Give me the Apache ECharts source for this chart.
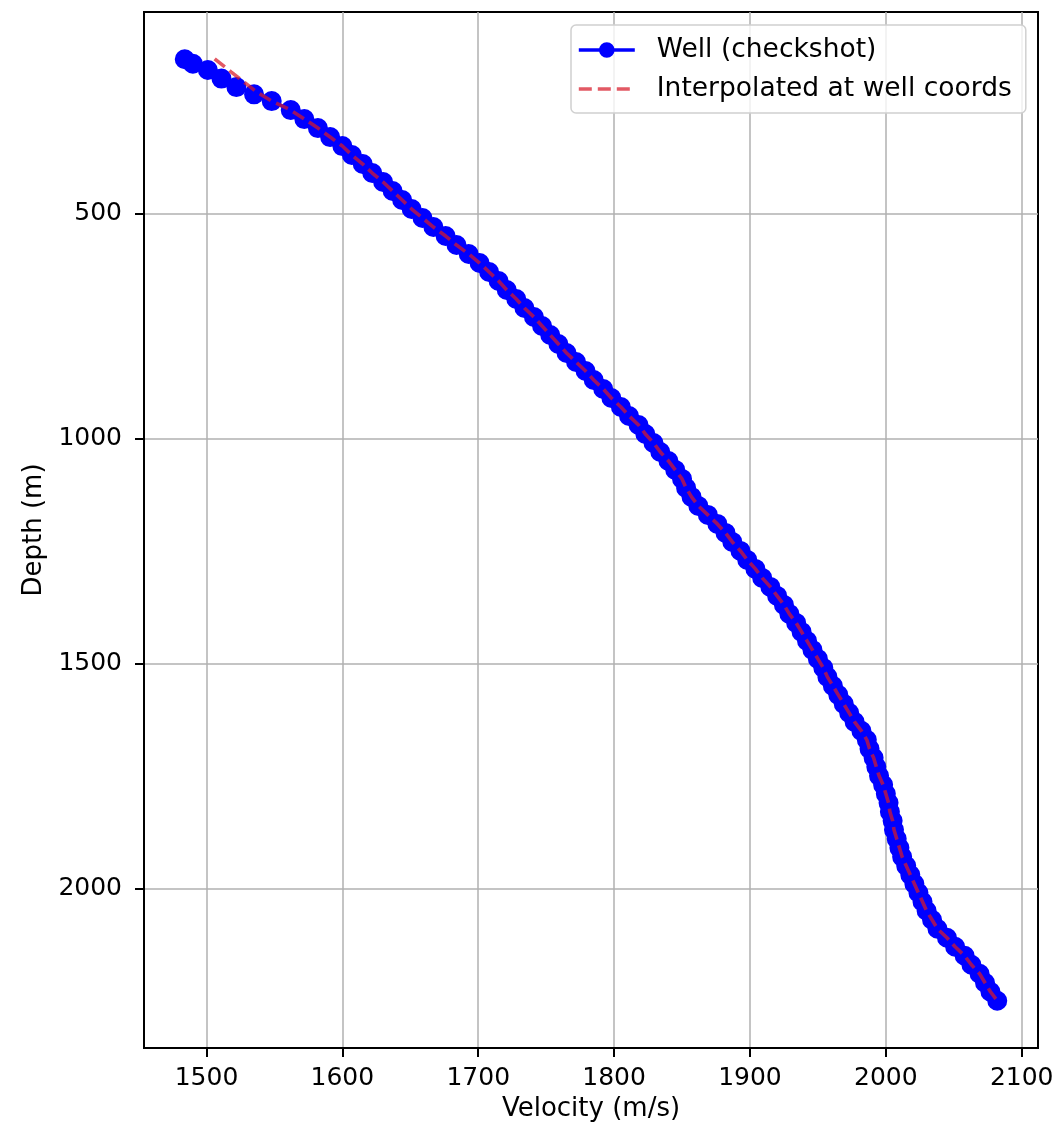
<!DOCTYPE html>
<html>
<head>
<meta charset="utf-8">
<script src="https://cdn.jsdelivr.net/npm/echarts@6/dist/echarts.min.js"></script>
<style>
html,body{margin:0;padding:0;background:#fff;}
#chart{width:1059px;height:1131px;}
</style>
</head>
<body>
<div id="chart"></div>
<script>
// Well checkshot: depth (m) and velocity (m/s)
const wellDepth = [157,167,181,200,219,235,250,270,290,310,330,350,370,390,410,430,450,470,490,510,530,550,570,590,610,630,650,670,690,710,730,750,770,790,810,830,850,870,890,910,930,950,970,990,1010,1030,1050,1070,1090,1110,1130,1150,1170,1190,1210,1230,1250,1270,1290,1310,1330,1350,1370,1390,1410,1430,1450,1470,1490,1510,1530,1550,1570,1590,1610,1630,1650,1670,1690,1710,1730,1750,1770,1790,1810,1830,1850,1870,1890,1910,1930,1950,1970,1990,2010,2030,2050,2070,2090,2110,2130,2150,2170,2190,2210,2230,2250];
const wellVel = [1484,1490,1501,1511,1522,1535,1548,1562,1572,1582,1591,1600,1607,1615,1622,1630,1637,1644,1651,1659,1667,1676,1684,1693,1701,1708,1715,1721,1728,1734,1741,1747,1753,1759,1765,1772,1779,1785,1792,1798,1805,1811,1818,1823,1829,1834,1840,1845,1850,1853,1857,1862,1869,1876,1882,1887,1893,1898,1904,1909,1915,1920,1925,1929,1934,1938,1942,1946,1950,1954,1957,1961,1965,1969,1973,1977,1982,1986,1988,1991,1993,1995,1998,2000,2002,2003,2005,2006,2008,2010,2012,2015,2018,2021,2024,2027,2030,2034,2038,2045,2051,2058,2063,2069,2073,2077,2082];
// Interpolated model: shallow part differs, deeper part follows the well
const interpTopDepth = [156,185,204,230,250];
const interpTopVel = [1506,1518,1526,1537,1548];
const interpJoinDepth = 270;

const xTicks = [1500,1600,1700,1800,1900,2000,2100];
const yTicks = [500,1000,1500,2000];
const xRange = [1454,2112];
const yRange = [52,2355];

const wellData = wellDepth.map((d,i)=>[wellVel[i], d]);
const interpData = interpTopDepth.map((d,i)=>[interpTopVel[i], d])
  .concat(wellData.filter(p => p[1] >= interpJoinDepth));

const FONT = 'DejaVu Sans';
const BLUE = '#0000ff';
const RED = 'rgba(215,25,40,0.72)';
const plain = v => String(v);

const chart = echarts.init(document.getElementById('chart'), null, {renderer:'canvas'});
chart.setOption({
  animation:false,
  backgroundColor:'#ffffff',
  textStyle:{fontFamily:FONT},
  grid:{left:144, right:21, top:12, bottom:83, containLabel:false, outerBoundsMode:'none',
        show:true, borderColor:'#000', borderWidth:2, backgroundColor:'transparent'},
  legend:{
    orient:'vertical', left:571, top:25,
    padding:[10,14,9,6], itemGap:9,
    itemWidth:56, itemHeight:17,
    backgroundColor:'rgba(255,255,255,0.8)',
    borderColor:'#d0d0d0', borderWidth:1.5, borderRadius:5,
    textStyle:{fontFamily:FONT, fontSize:26.5, color:'#000', lineHeight:30, padding:[0,0,0,17]},
    data:[
      {name:'Well (checkshot)', lineStyle:{color:BLUE, width:3.6, type:'solid'},
       itemStyle:{color:BLUE, borderColor:BLUE}},
      {name:'Interpolated at well coords', lineStyle:{color:RED, width:3.6, type:[13,6]},
       itemStyle:{color:'rgba(0,0,0,0)', borderColor:'rgba(0,0,0,0)', opacity:0}}
    ]
  },
  xAxis:{
    type:'value', min:xRange[0], max:xRange[1],
    name:'Velocity (m/s)', nameLocation:'middle', nameGap:39,
    nameTextStyle:{fontFamily:FONT, fontSize:26, color:'#000'},
    axisLine:{show:true, lineStyle:{color:'#000', width:2}},
    axisTick:{show:true, length:9, lineStyle:{color:'#000', width:2},
              customValues:xTicks},
    axisLabel:{fontFamily:FONT, fontSize:25, color:'#000', margin:18,
               customValues:xTicks, formatter:plain},
    splitLine:{show:true, lineStyle:{color:'#b0b0b0', width:1.5}}
  },
  yAxis:{
    type:'value', min:yRange[0], max:yRange[1], inverse:true,
    name:'Depth (m)', nameLocation:'middle', nameGap:88, nameRotate:90,
    nameTextStyle:{fontFamily:FONT, fontSize:26, color:'#000'},
    axisLine:{show:true, lineStyle:{color:'#000', width:2}},
    axisTick:{show:true, length:9, lineStyle:{color:'#000', width:2},
              customValues:yTicks},
    axisLabel:{fontFamily:FONT, fontSize:25, color:'#000', margin:22,
               customValues:yTicks, formatter:plain},
    splitLine:{show:true, lineStyle:{color:'#b0b0b0', width:1.5}}
  },
  series:[
    {
      name:'Well (checkshot)', type:'line', data:wellData,
      symbol:'circle', symbolSize:18, showAllSymbol:true,
      itemStyle:{color:BLUE, borderColor:BLUE, borderWidth:2},
      lineStyle:{color:BLUE, width:3.6},
      z:2
    },
    {
      name:'Interpolated at well coords', type:'line', data:interpData,
      symbol:'none', showSymbol:false,
      itemStyle:{color:RED},
      lineStyle:{color:RED, width:3.6, type:[13,6]},
      z:3
    }
  ]
});
</script>
</body>
</html>
